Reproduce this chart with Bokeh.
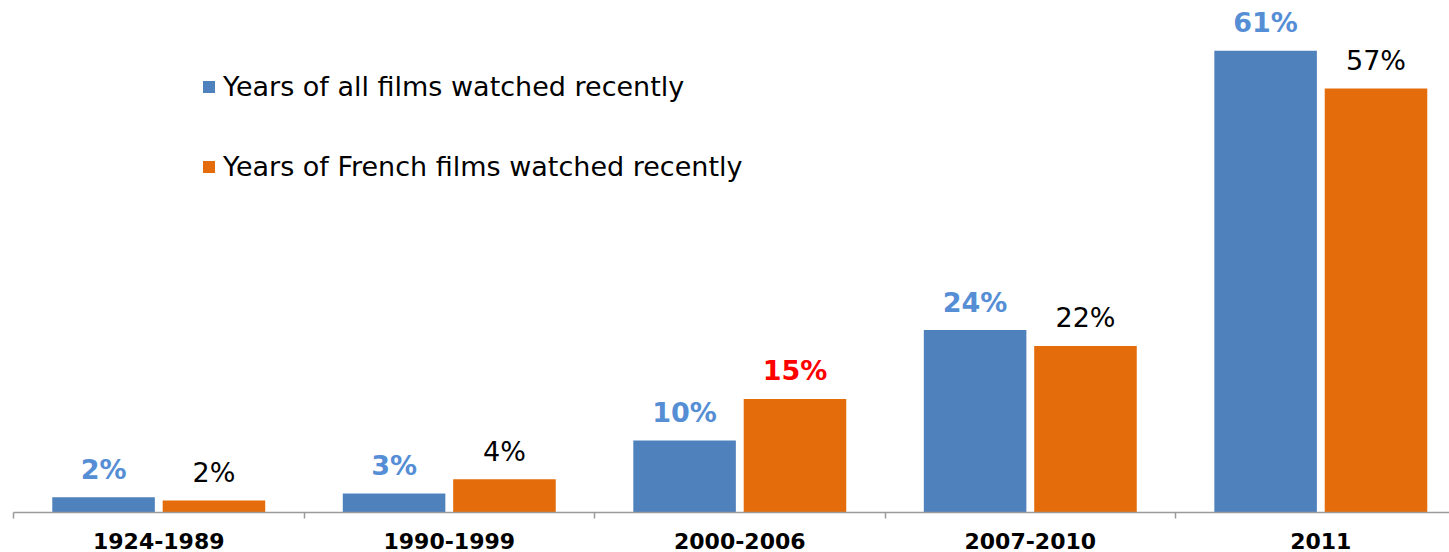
from bokeh.plotting import figure
from bokeh.models import ColumnDataSource, Range1d, FixedTicker, Legend, LegendItem
from bokeh.core.properties import value
from bokeh.embed import file_html
from bokeh.resources import INLINE

categories = ["1924-1989", "1990-1999", "2000-2006", "2007-2010", "2011"]
all_films = [2.0, 2.5, 9.5, 24.1, 61.0]
french_films = [1.6, 4.4, 15.0, 22.0, 56.0]
all_labels = ["2%", "3%", "10%", "24%", "61%"]
french_labels = ["2%", "4%", "15%", "22%", "57%"]
french_label_colors = ["#000000", "#000000", "#FF0000", "#000000", "#000000"]
french_label_styles = ["normal", "normal", "bold", "normal", "normal"]

BLUE = "#4F81BD"
ORANGE = "#E46C0A"
FONT = "DejaVu Sans"

centers = [i + 0.5 for i in range(len(categories))]
off = 0.19
bw = 0.353

src_all = ColumnDataSource(dict(x=[c - off for c in centers], top=all_films, label=all_labels))
src_fr = ColumnDataSource(dict(x=[c + off for c in centers], top=french_films, label=french_labels,
                               color=french_label_colors, style=french_label_styles))

p = figure(width=1449, height=552, output_backend="svg", toolbar_location=None,
           x_range=Range1d(0, 4.943), y_range=Range1d(0, 67.64), y_axis_location=None,
           min_border_left=13, min_border_right=0, min_border_top=0, min_border_bottom=40)
p.outline_line_color = None
p.grid.visible = False
p.background_fill_color = "white"
p.border_fill_color = "white"

r1 = p.vbar(x="x", top="top", width=bw, source=src_all, fill_color=BLUE, line_color=None)
r2 = p.vbar(x="x", top="top", width=bw, source=src_fr, fill_color=ORANGE, line_color=None)

p.text(x="x", y="top", text="label", source=src_all, text_align="center", text_baseline="alphabetic",
       y_offset=-28, text_font=value(FONT), text_font_size="27px", text_font_style="bold",
       text_color="#558ED5")
p.text(x="x", y="top", text="label", source=src_fr, text_align="center", text_baseline="alphabetic",
       y_offset=-28, text_font=value(FONT), text_font_size="27px", text_font_style="style",
       text_color="color")

ax = p.xaxis[0]
ax.ticker = FixedTicker(ticks=centers, minor_ticks=[float(i) for i in range(len(categories))])
ax.major_label_overrides = {c: cat for c, cat in zip(centers, categories)}
ax.major_tick_line_color = None
ax.major_tick_out = 0
ax.major_tick_in = 0
ax.minor_tick_out = 6
ax.minor_tick_in = 0
ax.minor_tick_line_color = "#9a9a9a"
ax.minor_tick_line_width = 1.5
ax.axis_line_color = "#9a9a9a"
ax.axis_line_width = 1.5
ax.major_label_text_font = FONT
ax.major_label_text_font_size = "22px"
ax.major_label_text_font_style = "bold"
ax.major_label_text_color = "black"
ax.major_label_standoff = 14

legend = Legend(items=[LegendItem(label="Years of all films watched recently", renderers=[r1]),
                       LegendItem(label="Years of French films watched recently", renderers=[r2])],
                location=(188, 330), border_line_color=None, background_fill_alpha=0,
                padding=0, margin=0, spacing=49, glyph_width=15, glyph_height=15,
                label_standoff=7, label_text_font=FONT, label_text_font_size="27px",
                label_text_color="black")
p.add_layout(legend)

open("out.html", "w").write(file_html(p, INLINE))
